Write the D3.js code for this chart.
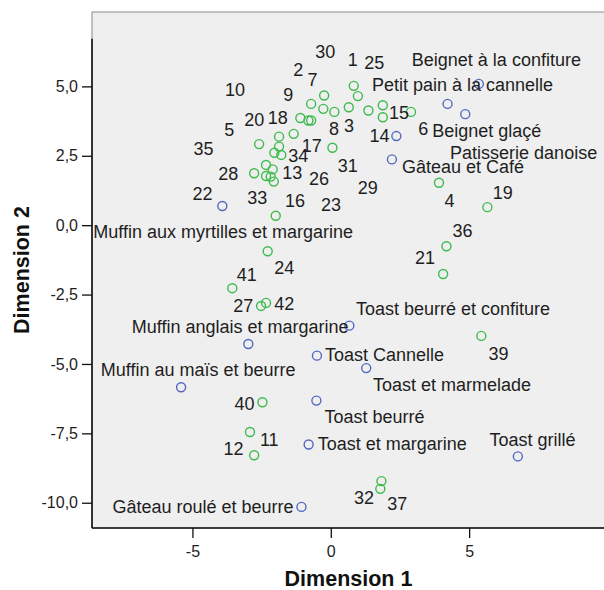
<!DOCTYPE html>
<html>
<head>
<meta charset="utf-8">
<script src="https://cdn.jsdelivr.net/npm/d3@7/dist/d3.min.js"></script>
<style>
  html, body { margin: 0; padding: 0; background: #ffffff; }
  svg { display: block; font-family: "Liberation Sans", Arial, sans-serif; }
</style>
</head>
<body>
<svg id="chart" width="604" height="590"></svg>
<script>
// ---- Data ----
// Products (blue points)
const productNames = [
  "Beignet à la confiture", "Petit pain à la cannelle", "Beignet glaçé",
  "Patisserie danoise", "Gâteau et Café", "Muffin aux myrtilles et margarine",
  "Toast beurré et confiture", "Muffin anglais et margarine", "Toast Cannelle",
  "Toast et marmelade", "Muffin au maïs et beurre", "Toast beurré",
  "Toast et margarine", "Toast grillé", "Gâteau roulé et beurre"
];
const productDim1 = [5.35, 4.22, 4.86, 2.37, 2.21, -3.92, 0.67, -2.98, -0.50, 1.28, -5.41, -0.52, -0.80, 6.76, -1.06];
const productDim2 = [5.09, 4.37, 4.00, 3.21, 2.37, 0.69, -3.62, -4.28, -4.70, -5.15, -5.84, -6.32, -7.90, -8.33, -10.15];

// Respondents (green points), labelled by case number
const caseIds = ["1","25","30","7","2","8","3","14","15","38","6","9","18","20","17","5","35","10","34","13","31","28","33","22","16","26","23","4","19","29","36","24","21","41","27","42","39","40","11","12","32","37"];
const caseDim1 = [0.83, 0.98, -0.24, -0.71, -0.27, 0.13, 0.65, 1.36, 1.88, 1.88, 2.90, -1.10, -0.81, -0.71, -1.34, -1.87, -2.59, -1.87, -2.04, -1.79, 0.06, -2.34, -2.10, -2.77, -2.34, -2.17, -2.06, 3.91, 5.66, -1.99, 4.18, -2.28, 4.06, -3.56, -2.52, -2.34, 5.44, -2.47, -2.92, -2.77, 1.83, 1.79];
const caseDim2 = [5.02, 4.65, 4.67, 4.37, 4.19, 4.08, 4.25, 4.13, 4.32, 3.89, 4.08, 3.86, 3.77, 3.77, 3.29, 3.19, 2.92, 2.83, 2.61, 2.53, 2.79, 2.17, 2.01, 1.87, 1.77, 1.75, 1.57, 1.53, 0.65, 0.34, -0.76, -0.94, -1.76, -2.27, -2.91, -2.80, -3.99, -6.38, -7.45, -8.29, -9.22, -9.50];

// Axis ticks and labels
const xTicks = [-5, 0, 5];
const xTickLabels = ["-5", "0", "5"];
const yTicks = [-10, -7.5, -5, -2.5, 0, 2.5, 5];
const yTickLabels = ["-10,0", "-7,5", "-5,0", "-2,5", "0,0", "2,5", "5,0"];
const xTitle = "Dimension 1";
const yTitle = "Dimension 2";

// ---- Layout (label placement offsets in pixels, as in the reference) ----
const productLabelOffsets = [
  [-67, -18], [-75.6, -13.3], [-33, 22.4], [53.7, 23.3], [10, 13.4], [-129, 32.3],
  [6.7, -10.7], [-116.6, -10.7], [8, 5.3], [6.7, 22.7], [-80.3, -11.3], [8, 22.6],
  [9, 5.7], [-28.4, -10.3], [-189, 5.7]
];
const caseLabelOffsets = [
  [-1, -26], [16.3, -33.6], [1, -44], [1.3, -24.7], [-25, -39], [-0.3, 17], [0.3, 18.7],
  [11, 25.3], [16.3, 7], null, [12.3, 17], [-12, -24], [-30.6, -3.4], [-57, -1.4],
  [18, 11.3], [-49.7, -6.7], [-55.7, 4.7], [-44, -56.7], [24, 2.3], [11, 17.7],
  [15.4, 17.3], [-37.7, 8.3], [-15.4, 28], [-51.7, 20], [29, 24.7], [48.3, 2.3],
  [57.3, 23.3], [10.6, 17.3], [15.4, -15], [92, -28], [16, -15.3], [16.6, 16.4],
  [-18, -16.3], [14.4, -14], [-17.7, 0], [18.3, 1], [17.3, 17.3], [-18, 1],
  [19.3, 8], [-20.7, -7], [-17.3, 16.3], [17, 15]
];

const products = productNames.map((n, i) => ({ name: n, d1: productDim1[i], d2: productDim2[i], off: productLabelOffsets[i] }));
const cases = caseIds.map((n, i) => ({ name: n, d1: caseDim1[i], d2: caseDim2[i], off: caseLabelOffsets[i] }));

const svg = d3.select("#chart");
const plot = { left: 92, right: 605, top: 12, bottom: 528 };

const x = d3.scaleLinear().domain([-8.63, 9.91]).range([plot.left, plot.right]);
const y = d3.scaleLinear().domain([-10.91, 7.68]).range([plot.bottom, plot.top]);

const blue = "#5468c0";
const green = "#3dbb4d";
const textColor = "#1e1e1e";

// Plot frame
svg.append("rect")
  .attr("x", plot.left).attr("y", plot.top)
  .attr("width", plot.right - plot.left + 5).attr("height", plot.bottom - plot.top)
  .attr("fill", "#efefef").attr("stroke", "#8a8a8a").attr("stroke-width", 1);

// Axes
const xAxis = d3.axisBottom(x).tickValues(xTicks)
  .tickFormat((d, i) => xTickLabels[i]).tickSize(10).tickPadding(8);
const gx = svg.append("g").attr("transform", `translate(0,${plot.bottom})`).call(xAxis);
gx.select(".domain").remove();
gx.append("line").attr("x1", plot.left).attr("x2", 604).attr("y1", 0).attr("y2", 0)
  .attr("stroke", "#111").attr("stroke-width", 1.6);

const yAxis = d3.axisLeft(y).tickValues(yTicks)
  .tickFormat((d, i) => yTickLabels[i]).tickSize(10).tickPadding(4);
const gy = svg.append("g").attr("transform", `translate(${plot.left},0)`).call(yAxis);
gy.select(".domain").remove();
gy.append("line").attr("x1", 0).attr("x2", 0).attr("y1", y(6.72)).attr("y2", plot.bottom)
  .attr("stroke", "#111").attr("stroke-width", 1.6);

[gx, gy].forEach(g => {
  g.selectAll(".tick line").attr("stroke", "#111").attr("stroke-width", 1.3);
  g.selectAll(".tick text").attr("fill", textColor).style("font-size", "16px")
    .style("font-family", '"Liberation Sans", Arial, sans-serif');
});

// Axis titles
svg.append("text").attr("x", (plot.left + plot.right) / 2).attr("y", 586)
  .attr("text-anchor", "middle").attr("fill", "#111")
  .style("font-size", "21.5px").style("font-weight", "bold").text(xTitle);
svg.append("text")
  .attr("transform", `translate(28.5,${(plot.top + plot.bottom) / 2}) rotate(-90)`)
  .attr("text-anchor", "middle").attr("fill", "#111")
  .style("font-size", "21.5px").style("font-weight", "bold").text(yTitle);

// Points
const gPts = svg.append("g");
gPts.selectAll("circle.case").data(cases).join("circle").attr("class", "case")
  .attr("cx", d => x(d.d1)).attr("cy", d => y(d.d2)).attr("r", 4.5)
  .attr("fill", "none").attr("stroke", green).attr("stroke-width", 1.4);
gPts.selectAll("circle.prod").data(products).join("circle").attr("class", "prod")
  .attr("cx", d => x(d.d1)).attr("cy", d => y(d.d2)).attr("r", 4.5)
  .attr("fill", "none").attr("stroke", blue).attr("stroke-width", 1.4);

// Labels
const gLab = svg.append("g").style("font-size", "18px").attr("fill", textColor);
gLab.selectAll("text.case").data(cases.filter(d => d.off)).join("text").attr("class", "case")
  .attr("x", d => x(d.d1) + d.off[0]).attr("y", d => y(d.d2) + d.off[1] + 6.5)
  .attr("text-anchor", "middle").text(d => d.name);
gLab.selectAll("text.prod").data(products).join("text").attr("class", "prod")
  .attr("x", d => x(d.d1) + d.off[0]).attr("y", d => y(d.d2) + d.off[1])
  .attr("text-anchor", "start").text(d => d.name);
</script>
</body>
</html>
